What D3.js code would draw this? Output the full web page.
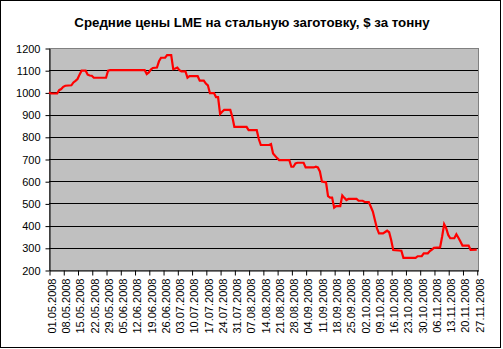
<!DOCTYPE html>
<html>
<head>
<meta charset="utf-8">
<script src="https://cdn.jsdelivr.net/npm/d3@7"></script>
<style>
  body { margin: 0; background: #fff; }
  text { font-family: "Liberation Sans", Arial, sans-serif; }
</style>
</head>
<body>
<svg id="chart" width="503" height="349"></svg>
<script>
var title = 'Средние цены LME на стальную заготовку, $ за тонну'

// daily dates with a break point at each change
var dates = [
  '2008-05-01', '2008-05-02', '2008-05-05', '2008-05-06', '2008-05-07', '2008-05-08', '2008-05-09',
  '2008-05-12', '2008-05-13', '2008-05-14', '2008-05-15', '2008-05-16', '2008-05-17', '2008-05-19',
  '2008-05-20', '2008-05-21', '2008-05-22', '2008-05-23', '2008-05-29', '2008-05-30', '2008-05-31',
  '2008-06-17', '2008-06-18', '2008-06-19', '2008-06-20', '2008-06-21', '2008-06-23', '2008-06-24',
  '2008-06-25', '2008-06-27', '2008-06-28', '2008-06-30', '2008-07-01', '2008-07-02', '2008-07-03',
  '2008-07-04', '2008-07-05', '2008-07-07', '2008-07-08', '2008-07-09', '2008-07-13', '2008-07-14',
  '2008-07-16', '2008-07-17', '2008-07-18', '2008-07-19', '2008-07-21', '2008-07-22', '2008-07-23',
  '2008-07-24', '2008-07-25', '2008-07-26', '2008-07-29', '2008-07-30', '2008-07-31', '2008-08-06',
  '2008-08-07', '2008-08-11', '2008-08-12', '2008-08-13', '2008-08-17', '2008-08-18', '2008-08-19',
  '2008-08-21', '2008-08-22', '2008-08-27', '2008-08-28', '2008-08-29', '2008-08-30', '2008-08-31',
  '2008-09-03', '2008-09-04', '2008-09-08', '2008-09-09', '2008-09-10', '2008-09-11', '2008-09-12',
  '2008-09-14', '2008-09-15', '2008-09-16', '2008-09-17', '2008-09-18', '2008-09-19', '2008-09-21',
  '2008-09-22', '2008-09-23', '2008-09-24', '2008-09-25', '2008-09-29', '2008-09-30', '2008-10-02',
  '2008-10-03', '2008-10-05', '2008-10-06', '2008-10-07', '2008-10-08', '2008-10-09', '2008-10-10',
  '2008-10-12', '2008-10-14', '2008-10-15', '2008-10-16', '2008-10-17', '2008-10-21', '2008-10-22',
  '2008-10-28', '2008-10-29', '2008-10-31', '2008-11-01', '2008-11-03', '2008-11-04', '2008-11-05',
  '2008-11-06', '2008-11-09', '2008-11-10', '2008-11-11', '2008-11-12', '2008-11-13', '2008-11-14',
  '2008-11-16', '2008-11-17', '2008-11-18', '2008-11-19', '2008-11-20', '2008-11-23', '2008-11-24',
  '2008-11-27'
]
var prices = [
  1000, 995, 995, 1010, 1015, 1025, 1030,
  1032, 1045, 1052, 1060, 1080, 1098, 1098,
  1080, 1076, 1075, 1066, 1066, 1098, 1100,
  1100, 1083, 1090, 1103, 1110, 1112, 1140,
  1156, 1156, 1168, 1168, 1105, 1108, 1112,
  1100, 1095, 1095, 1066, 1073, 1073, 1053,
  1053, 1040, 1032, 997, 997, 979, 979,
  903, 913, 921, 921, 890, 845, 845,
  830, 830, 790, 763, 763, 767, 725,
  704, 695, 695, 665, 665, 680, 683,
  683, 662, 662, 665, 662, 644, 598,
  595, 533, 526, 526, 481, 488, 488,
  536, 525, 515, 520, 520, 512, 512,
  507, 506, 485, 463, 425, 388, 365,
  365, 377, 370, 335, 290, 287, 255,
  255, 262, 262, 275, 275, 285, 292,
  300, 302, 350, 406, 388, 358, 343,
  343, 361, 345, 328, 310, 310, 291,
  292
]
var yTicks = [200, 300, 400, 500, 600, 700, 800, 900, 1000, 1100, 1200]
var xStart = '2008-05-01', xEnd = '2008-11-27'

var parse = d3.timeParse('%Y-%m-%d')
var fmt = d3.timeFormat('%d.%m.%Y')
var data = dates.map(function (d, i) { return { date: parse(d), value: prices[i] } })

var svg = d3.select('#chart')
var plotLeft = 49, plotRight = 478, plotTop = 48, plotBottom = 270

// outer frame
svg.append('rect').attr('x', 0.5).attr('y', 0.5).attr('width', 500).attr('height', 347)
  .attr('fill', '#fff').attr('stroke', '#000')

var x0 = parse(xStart), x1 = d3.timeHour.offset(parse(xEnd), 15)
var x = d3.scaleTime().domain([x0, x1]).range([plotLeft, plotRight])
var y = d3.scaleLinear().domain([200, 1200]).range([plotBottom, plotTop])

svg.append('rect').attr('x', plotLeft + 0.5).attr('y', plotTop + 0.5)
  .attr('width', plotRight - plotLeft).attr('height', plotBottom - plotTop)
  .attr('fill', '#c0c0c0').attr('stroke', '#808080')

svg.append('g').selectAll('line').data(yTicks.slice(1, -1)).enter().append('line')
  .attr('x1', plotLeft).attr('x2', plotRight)
  .attr('y1', function (d) { return Math.round(y(d)) + 0.5 })
  .attr('y2', function (d) { return Math.round(y(d)) + 0.5 })
  .attr('stroke', '#000')

// y axis
var yAxis = svg.append('g').attr('transform', 'translate(' + (plotLeft + 0.5) + ',0.5)')
  .call(d3.axisLeft(y).tickValues(yTicks).tickSize(4).tickSizeOuter(0).tickPadding(5).tickFormat(d3.format('d')))
yAxis.select('.domain').attr('stroke', '#000')
yAxis.selectAll('text').attr('font-size', 11).attr('font-family', '"Liberation Sans", Arial, sans-serif')
  .attr('fill', '#000')

// x axis, weekly ticks
var weeks = d3.range(0, 31).map(function (i) { return d3.timeDay.offset(x0, i * 7) })
var xAxis = svg.append('g').attr('transform', 'translate(0.5,' + (plotBottom + 0.5) + ')')
  .call(d3.axisBottom(x).tickValues(weeks).tickSize(5).tickSizeOuter(0).tickFormat(fmt))
xAxis.select('.domain').attr('stroke', '#000')
xAxis.selectAll('text')
  .attr('font-size', 11).attr('font-family', '"Liberation Sans", Arial, sans-serif').attr('fill', '#000')
  .attr('text-anchor', 'end').attr('transform', 'rotate(-90)')
  .attr('x', -8).attr('y', 2).attr('dy', '0.35em')

var line = d3.line().x(function (d) { return x(d.date) }).y(function (d) { return y(d.value) })
svg.append('path').datum(data).attr('d', line)
  .attr('fill', 'none').attr('stroke', '#ff0000').attr('stroke-width', 2.2)
  .attr('stroke-linejoin', 'miter')

svg.append('text').attr('x', 252).attr('y', 27).attr('text-anchor', 'middle')
  .attr('font-size', 13.3).attr('font-weight', 'bold').attr('fill', '#000')
  .text(title)
</script>
</body>
</html>
